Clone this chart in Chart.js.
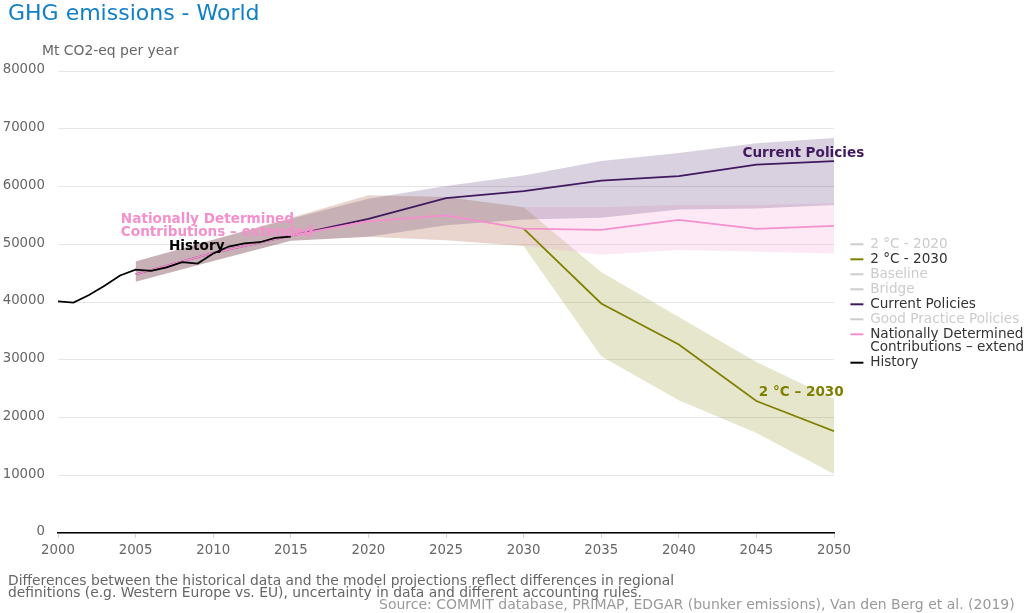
<!DOCTYPE html>
<html>
<head>
<meta charset="utf-8">
<title>GHG emissions - World</title>
<script src="https://cdn.jsdelivr.net/npm/chart.js@4"></script>
<style>
  html, body { margin: 0; padding: 0; background: #fff; overflow: hidden; }
  canvas { display: block; }
</style>
</head>
<body>
<canvas id="ghgChart" width="1024" height="613"></canvas>
<script>
// History
const historyYears = [2000, 2001, 2002, 2003, 2004, 2005, 2006, 2007, 2008, 2009, 2010, 2011, 2012, 2013, 2014, 2015];
const historyValues = [40100, 39900, 41200, 42800, 44600, 45600, 45400, 46000, 46900, 46650, 48400, 49600, 50150, 50350, 51100, 51300];

// Scenarios, five year steps
const scenarioYears = [2005, 2010, 2015, 2020, 2025, 2030, 2035, 2040, 2045, 2050];
const currentPolicies = [44800, 48500, 51500, 54400, 58000, 59200, 61000, 61800, 63800, 64400];
const currentUpper = [47000, 50800, 54400, 57900, 60100, 61900, 64400, 65800, 67500, 68400];
const currentLower = [43500, 47100, 50600, 51300, 53300, 54300, 54600, 56000, 56200, 56800];

const ndcExtended = [44800, 48500, 51500, 54000, 55000, 52700, 52500, 54200, 52650, 53200];
const ndcUpper = [47000, 50800, 54600, 58500, 58200, 56400, 56400, 56800, 56800, 57100];
const ndcLower = [43500, 47100, 50600, 51300, 50700, 49700, 48200, 49000, 48700, 48400];

const twoDegYears = [2030, 2035, 2040, 2045, 2050];
const twoDeg2030 = [52700, 39750, 32650, 22850, 17650];
const twoDegBandYears = [2005, 2010, 2015, 2020, 2025, 2030, 2035, 2040, 2045, 2050];
const twoDegUpper = [47000, 50800, 54600, 58500, 58200, 56400, 45200, 37400, 29600, 23200];
const twoDegLower = [43500, 47100, 50600, 51300, 50700, 49700, 30600, 23000, 17300, 10200];

// Legend
const legendNames = ["2 °C - 2020", "2 °C - 2030", "Baseline", "Bridge", "Current Policies", "Good Practice Policies",
  ["Nationally Determined", "Contributions – extended"], "History"];
const legendColors = ["#cccccc", "#808000", "#cccccc", "#cccccc", "#41195e", "#cccccc", "#f490cd", "#000000"];
const legendTextColors = ["#cccccc", "#333333", "#cccccc", "#cccccc", "#333333", "#cccccc", "#333333", "#333333"];

const FONT = "'DejaVu Sans', Verdana, sans-serif";

function points(xs, ys) {
  return xs.map((x, i) => ({ x: x, y: ys[i] }));
}

function line(values, years, color, width) {
  return { data: points(years, values), borderColor: color, borderWidth: width, pointRadius: 0, fill: false, tension: 0 };
}

// band is the upper edge filled down to the next dataset
function band(upper, lower, years, color) {
  return [
    { data: points(years, upper), borderWidth: 0, pointRadius: 0, backgroundColor: color, fill: "+1", tension: 0 },
    { data: points(years, lower), borderWidth: 0, pointRadius: 0, fill: false, tension: 0 },
  ];
}

const labelPlugin = {
  id: "labelPlugin",
  afterLayout(chart) {
    // chart.js gives these blocks no offset of their own
    chart.titleBlock.left = 8;
    chart.legend.left = 849;
    chart.legend.top += 42;
  },
  afterDraw(chart) {
    const ctx = chart.ctx;
    const x = chart.scales.x;
    const y = chart.scales.y;
    ctx.save();
    ctx.textBaseline = "middle";
    ctx.textAlign = "left";

    // series labels
    ctx.font = "bold 13.6px " + FONT;
    ctx.fillStyle = "#41195e";
    ctx.fillText("Current Policies", x.getPixelForValue(2044.1), y.getPixelForValue(65800));
    ctx.fillStyle = "#808000";
    ctx.fillText("2 °C – 2030", x.getPixelForValue(2045.15), y.getPixelForValue(24400));
    ctx.fillStyle = "#f490cd";
    ctx.fillText("Nationally Determined", x.getPixelForValue(2004.05), y.getPixelForValue(54300));
    ctx.fillText("Contributions – extended", x.getPixelForValue(2004.05), y.getPixelForValue(52100));
    ctx.fillStyle = "#000000";
    ctx.fillText("History", x.getPixelForValue(2007.15), y.getPixelForValue(49600));

    // unit and notes
    ctx.fillStyle = "#666666";
    ctx.font = "13.9px " + FONT;
    ctx.fillText("Mt CO2-eq per year", 42, 51);
    ctx.font = "13.85px " + FONT;
    ctx.fillText("Differences between the historical data and the model projections reflect differences in regional", 8, 581);
    ctx.fillText("definitions (e.g. Western Europe vs. EU), uncertainty in data and different accounting rules.", 8, 593.5);
    ctx.fillStyle = "#999999";
    ctx.font = "14px " + FONT;
    ctx.fillText("Source: COMMIT database, PRIMAP, EDGAR (bunker emissions), Van den Berg et al. (2019)", 379, 605);
    ctx.restore();
  },
};

new Chart(document.getElementById("ghgChart"), {
  type: "line",
  data: {
    // lower index is drawn on top
    datasets: [
      line(historyValues, historyYears, "#000000", 1.75),
      line(ndcExtended, scenarioYears, "#f490cd", 1.75),
      line(twoDeg2030, twoDegYears, "#808000", 1.75),
      line(currentPolicies, scenarioYears, "#41195e", 1.75),
      ...band(currentUpper, currentLower, scenarioYears, "rgba(65, 25, 94, 0.2)"),
      ...band(ndcUpper, ndcLower, scenarioYears, "rgba(244, 144, 205, 0.2)"),
      ...band(twoDegUpper, twoDegLower, twoDegBandYears, "rgba(128, 128, 0, 0.2)"),
    ],
  },
  options: {
    responsive: false,
    animation: false,
    layout: { padding: { left: 0, right: 0, top: 0, bottom: 48 } },
    plugins: {
      tooltip: { enabled: false },
      title: {
        display: true,
        text: "GHG emissions - World",
        align: "start",
        color: "#0f7fc6",
        font: { family: FONT, size: 22, weight: "normal" },
        padding: { top: 1, bottom: 43.6 },
      },
      legend: {
        position: "right",
        maxWidth: 190,
        labels: {
          boxWidth: 13,
          boxHeight: 2,
          padding: 1.4,
          font: { family: FONT, size: 13.6, lineHeight: "13.5px" },
          generateLabels: () =>
            legendNames.map((name, i) => ({
              text: name,
              fillStyle: legendColors[i],
              strokeStyle: legendColors[i],
              lineWidth: 0,
              fontColor: legendTextColors[i],
              hidden: false,
            })),
        },
      },
    },
    scales: {
      x: {
        type: "linear",
        min: 2000,
        max: 2050,
        afterFit: (scale) => { scale.height = 32; },
        grid: { drawOnChartArea: false, color: "#ccd6eb", tickLength: 5 },
        border: { color: "#000000", width: 1.5 },
        ticks: {
          stepSize: 5,
          padding: 5,
          maxRotation: 0,
          color: "#666666",
          font: { family: FONT, size: 13.3 },
          callback: (value) => String(value),
        },
      },
      y: {
        min: 0,
        max: 80000,
        afterFit: (scale) => { scale.width = 58; },
        grid: { color: "#e6e6e6", drawTicks: false },
        border: { display: false },
        ticks: {
          stepSize: 10000,
          padding: 13,
          color: "#666666",
          font: { family: FONT, size: 13.3, lineHeight: "2px" },
          // the empty second line lifts the label above its grid line
          callback: (value) => [String(value), ""],
        },
      },
    },
  },
  plugins: [labelPlugin],
});
</script>
</body>
</html>
